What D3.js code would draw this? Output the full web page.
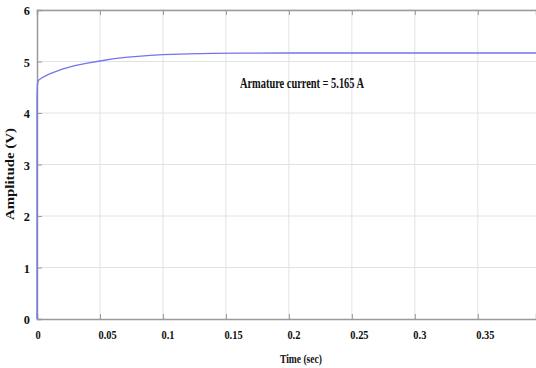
<!DOCTYPE html>
<html><head><meta charset="utf-8">
<script src="https://cdn.jsdelivr.net/npm/d3@7"></script>
<style>
html,body{margin:0;padding:0;background:#fff;}
svg{display:block;}
text{font-family:"Liberation Serif","Times New Roman",serif;font-weight:bold;fill:#111;}
</style></head>
<body>
<svg id="chart" width="536" height="368"></svg>
<script>
const timeValues = [0, 0, 0.0003, 0.001, 0.003, 0.006, 0.01, 0.02, 0.03, 0.04, 0.05, 0.06, 0.07, 0.08, 0.09, 0.1, 0.12, 0.14, 0.16, 0.2, 0.25, 0.3, 0.35, 0.4];
const currentValues = [0, 4.3, 4.55, 4.63, 4.67, 4.71, 4.76, 4.85, 4.92, 4.97, 5.01, 5.05, 5.08, 5.1, 5.12, 5.135, 5.15, 5.158, 5.163, 5.165, 5.165, 5.165, 5.165, 5.165];
const xTicks = [0, 0.05, 0.1, 0.15, 0.2, 0.25, 0.3, 0.35];
const xTickLabels = ["0", "0.05", "0.1", "0.15", "0.2", "0.25", "0.3", "0.35"];
const yTicks = [0, 1, 2, 3, 4, 5, 6];
const annotation = "Armature current = 5.165 A";
const xTitle = "Time (sec)";
const yTitle = "Amplitude (V)";

const FONT = "'Liberation Serif', 'Times New Roman', serif";
const svg = d3.select("#chart");
const mLeft = 37, mRight = 536, mTop = 10, mBottom = 319;
const x = d3.scaleLinear().domain([0, 0.3962]).range([mLeft, mRight]);
const y = d3.scaleLinear().domain([0, 6]).range([mBottom, mTop]);

// grid
const g = svg.append("g");
g.selectAll(".vg").data(xTicks.slice(1)).join("line")
  .attr("x1", d => x(d)).attr("x2", d => x(d)).attr("y1", mTop).attr("y2", mBottom)
  .attr("stroke", "#e2e2e2").attr("stroke-width", 1);
g.selectAll(".hg").data(yTicks.slice(1)).join("line")
  .attr("x1", mLeft).attr("x2", mRight).attr("y1", d => y(d)).attr("y2", d => y(d))
  .attr("stroke", "#e2e2e2").attr("stroke-width", 1);

// axes
const xAxis = d3.axisBottom(x).tickValues(xTicks).tickFormat((d, i) => xTickLabels[i]).tickSize(-5).tickPadding(0);
const yAxis = d3.axisLeft(y).tickValues(yTicks).tickFormat(d3.format("d")).tickSize(-5).tickPadding(0);
const xTop = d3.axisTop(x).tickValues(xTicks).tickFormat("").tickSize(-5);

const ax = svg.append("g").attr("transform", `translate(0,${mBottom})`).call(xAxis);
const ay = svg.append("g").attr("transform", `translate(${mLeft},0)`).call(yAxis);
const at = svg.append("g").attr("transform", `translate(0,${mTop})`).call(xTop);
[ax, ay, at].forEach(a => {
  a.attr("font-family", FONT);
  a.select(".domain").attr("stroke", "#9a9a9a").attr("stroke-width", 1.5);
  a.selectAll(".tick line").attr("stroke", "#9a9a9a");
  a.selectAll(".tick text").attr("font-family", FONT).attr("font-weight", "bold")
    .attr("font-size", 13).attr("fill", "#111");
});
// x tick labels: left-aligned at tick, horizontally condensed
ax.selectAll(".tick text")
  .attr("text-anchor", "start").attr("x", 0).attr("y", 0).attr("dy", null)
  .attr("transform", "translate(-2,20) scale(0.8,1)");
// y tick labels
ay.selectAll(".tick text")
  .attr("x", 0).attr("dy", null)
  .attr("transform", "translate(-7,4.5) scale(0.95,1)");

// curve
const line = d3.line().x(d => x(d[0])).y(d => y(d[1]));
svg.append("path").datum(timeValues.map((t, i) => [t, currentValues[i]]))
  .attr("d", line).attr("fill", "none").attr("stroke", "#7474ee").attr("stroke-width", 1.3);

// annotation
svg.append("text").attr("x", 240).attr("y", 88)
  .attr("font-family", FONT).attr("font-size", 14.5)
  .attr("textLength", 124).attr("lengthAdjust", "spacingAndGlyphs").text(annotation);

// titles
svg.append("text").attr("x", 280).attr("y", 363)
  .attr("font-family", FONT).attr("font-size", 12.5)
  .attr("textLength", 42).attr("lengthAdjust", "spacingAndGlyphs").text(xTitle);
svg.append("text").attr("transform", "translate(14,220) rotate(-90)")
  .attr("font-family", FONT).attr("font-size", 12)
  .attr("textLength", 92).attr("lengthAdjust", "spacingAndGlyphs").text(yTitle);
</script>
</body></html>
